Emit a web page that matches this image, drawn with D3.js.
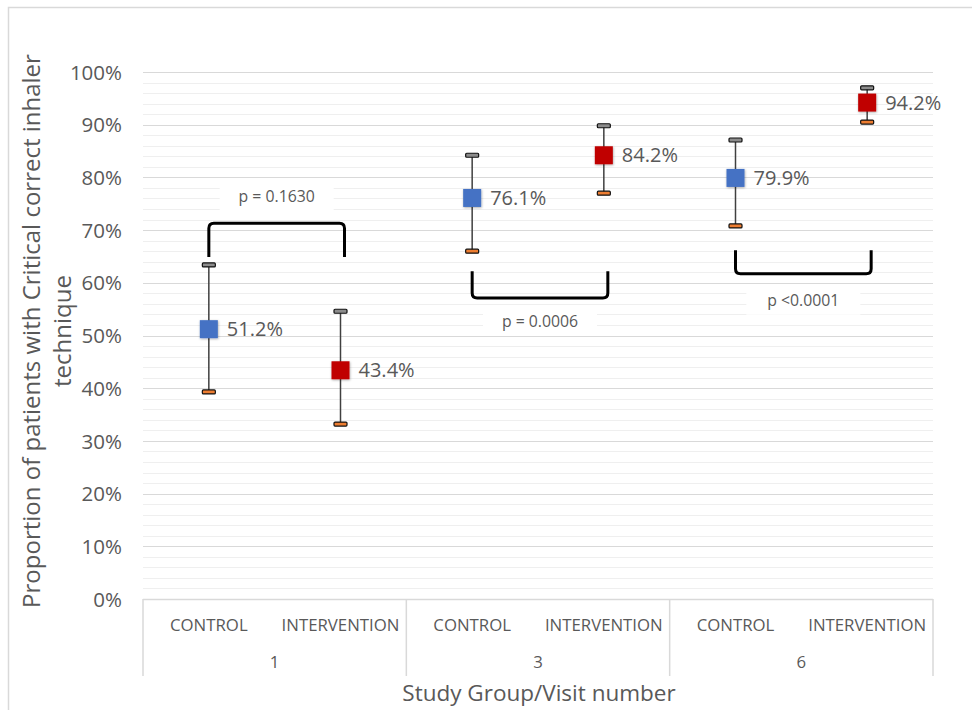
<!DOCTYPE html>
<html>
<head>
<meta charset="utf-8">
<script src="https://cdn.jsdelivr.net/npm/d3@7"></script>
<style>
  html, body { margin: 0; padding: 0; background: #fff; }
  svg { display: block; }
  text { font-family: "Open Sans", "Noto Sans", sans-serif; fill: #595959; }
</style>
</head>
<body>
<svg id="chart" width="972" height="710"></svg>
<script>
// Categories along the x axis (study group within each visit)
const groups = ["CONTROL", "INTERVENTION", "CONTROL", "INTERVENTION", "CONTROL", "INTERVENTION"];
const visits = ["1", "3", "6"];
const visitOfPoint = ["1", "1", "3", "3", "6", "6"];

// Proportion with critical correct inhaler technique and its confidence bounds
const values = [0.512, 0.434, 0.761, 0.842, 0.799, 0.942];
const upper  = [0.634, 0.546, 0.842, 0.898, 0.871, 0.970];
const lower  = [0.393, 0.332, 0.660, 0.770, 0.708, 0.905];

// Y axis ticks
const yTicks = [0, 0.1, 0.2, 0.3, 0.4, 0.5, 0.6, 0.7, 0.8, 0.9, 1.0];
const yMinorTicks = d3.range(0, 1.0001, 0.02);

// Comparison brackets between groups at each visit
const pLabels  = ["p = 0.1630", "p = 0.0006", "p <0.0001"];
const pVisit   = ["1", "3", "6"];
const pOpen    = ["down", "up", "up"];
const pBase    = [0.713, 0.571, 0.617];
const pLegEnd  = [0.649, 0.622, 0.662];
const pLabelY  = [0.763, 0.527, 0.566];

const svg = d3.select("#chart");
const plot = { left: 143, right: 933, top: 72, bottom: 599 };

// outer chart frame
svg.append("rect").attr("x", 8.5).attr("y", 7.5).attr("width", 972).attr("height", 720)
  .attr("fill", "none").attr("stroke", "#d9d9d9").attr("stroke-width", 1.5);

const idx = d3.range(groups.length);
const x = d3.scaleBand().domain(idx).range([plot.left, plot.right]);
const cx = i => x(i) + x.bandwidth() / 2;
const y = d3.scaleLinear().domain([0, 1]).range([plot.bottom, plot.top]);

// minor gridlines
svg.append("g").selectAll("line").data(yMinorTicks).join("line")
  .attr("x1", plot.left).attr("x2", plot.right)
  .attr("y1", d => Math.round(y(d)) + 0.5).attr("y2", d => Math.round(y(d)) + 0.5)
  .attr("stroke", "#efefef").attr("stroke-width", 1);

// major gridlines
svg.append("g").selectAll("line").data(yTicks.slice(1)).join("line")
  .attr("x1", plot.left).attr("x2", plot.right)
  .attr("y1", d => Math.round(y(d)) + 0.5).attr("y2", d => Math.round(y(d)) + 0.5)
  .attr("stroke", "#d9d9d9").attr("stroke-width", 1.2);

// y axis labels
const yAxis = d3.axisLeft(y).tickValues(yTicks).tickFormat(d3.format(".0%")).tickSize(0).tickPadding(21);
const yg = svg.append("g").attr("transform", `translate(${plot.left},0)`).call(yAxis);
yg.select(".domain").remove();
yg.selectAll("text").style("font-size", "20.5px").attr("fill", "#595959")
  .style("font-family", "'Open Sans', sans-serif").attr("dy", "0.35em");

// category axis frame
const axisBottom = 676;
svg.append("line").attr("x1", plot.left).attr("x2", plot.right)
  .attr("y1", plot.bottom + 0.5).attr("y2", plot.bottom + 0.5)
  .attr("stroke", "#d9d9d9").attr("stroke-width", 1.5);
const visitEdges = [plot.left].concat(visits.map(v => x(idx.filter(i => visitOfPoint[i] === v).slice(-1)[0]) + x.bandwidth()));
svg.append("g").selectAll("line").data(visitEdges).join("line")
  .attr("x1", d => d).attr("x2", d => d).attr("y1", plot.bottom).attr("y2", axisBottom)
  .attr("stroke", "#d9d9d9").attr("stroke-width", 1.5);

svg.append("g").selectAll("text").data(idx).join("text")
  .attr("x", i => cx(i)).attr("y", 631).attr("text-anchor", "middle")
  .style("font-size", "16.8px").text(i => groups[i]);

svg.append("g").selectAll("text").data(visits).join("text")
  .attr("x", v => d3.mean(idx.filter(i => visitOfPoint[i] === v), cx))
  .attr("y", 668).attr("text-anchor", "middle").style("font-size", "16.8px").text(v => v);

// axis titles
svg.append("text").attr("x", 539).attr("y", 701).attr("text-anchor", "middle")
  .style("font-size", "22.5px").text("Study Group/Visit number");
const yt = svg.append("text").attr("transform", "translate(40,331) rotate(-90)")
  .attr("text-anchor", "middle").style("font-size", "24px");
yt.append("tspan").attr("x", 0).attr("dy", 0).text("Proportion of patients with Critical correct inhaler");
yt.append("tspan").attr("x", 0).attr("dy", 31).text("technique");

// error bars
const eb = svg.append("g");
eb.selectAll("line").data(idx).join("line")
  .attr("x1", cx).attr("x2", cx).attr("y1", i => y(upper[i])).attr("y2", i => y(lower[i]))
  .attr("stroke", "#404040").attr("stroke-width", 1.5);
const capW = 13, capH = 4;
eb.selectAll("rect.top").data(idx).join("rect").attr("class", "top")
  .attr("x", i => cx(i) - capW / 2).attr("y", i => y(upper[i]) - capH / 2)
  .attr("width", capW).attr("height", capH).attr("rx", 1)
  .attr("fill", "#8c8c8c").attr("stroke", "#111").attr("stroke-width", 1.2);
eb.selectAll("rect.bot").data(idx).join("rect").attr("class", "bot")
  .attr("x", i => cx(i) - capW / 2).attr("y", i => y(lower[i]) - capH / 2)
  .attr("width", capW).attr("height", capH).attr("rx", 1)
  .attr("fill", "#ed7d31").attr("stroke", "#111").attr("stroke-width", 1.2);

// markers
const defs = svg.append("defs");
const f = defs.append("filter").attr("id", "shadow").attr("x", "-30%").attr("y", "-30%").attr("width", "160%").attr("height", "160%");
f.append("feDropShadow").attr("dx", 0.5).attr("dy", 0.8).attr("stdDeviation", 0.8).attr("flood-color", "#000").attr("flood-opacity", 0.35);
const markerColor = g => g === "CONTROL" ? "#4472c4" : "#c00000";
const ms = 18;
svg.append("g").selectAll("rect").data(idx).join("rect")
  .attr("x", i => cx(i) - ms / 2).attr("y", i => y(values[i]) - ms / 2)
  .attr("width", ms).attr("height", ms)
  .attr("fill", i => markerColor(groups[i])).attr("filter", "url(#shadow)");

// value labels
svg.append("g").selectAll("text").data(idx).join("text")
  .attr("x", i => cx(i) + 18).attr("y", i => y(values[i])).attr("dy", "0.36em")
  .style("font-size", "20px").attr("fill", "#404040")
  .text(i => d3.format(".1%")(values[i]));

// comparison brackets with p-values
const br = svg.append("g");
pLabels.forEach((lab, k) => {
  const pts = idx.filter(i => visitOfPoint[i] === pVisit[k]);
  const x0 = cx(pts[0]), x1 = cx(pts[1]) + 4;
  const yb = y(pBase[k]), yl = y(pLegEnd[k]);
  const r = 5 * (pOpen[k] === "down" ? 1 : -1);
  const path = d3.path();
  path.moveTo(x0, yl);
  path.lineTo(x0, yb + r);
  path.quadraticCurveTo(x0, yb, x0 + 5, yb);
  path.lineTo(x1 - 5, yb);
  path.quadraticCurveTo(x1, yb, x1, yb + r);
  path.lineTo(x1, yl);
  br.append("path").attr("d", path.toString()).attr("fill", "none")
    .attr("stroke", "#000").attr("stroke-width", 3);
  const mx = (x0 + x1) / 2;
  br.append("rect").attr("x", mx - 57).attr("y", y(pLabelY[k]) - 14)
    .attr("width", 114).attr("height", 28).attr("fill", "#fff");
  br.append("text").attr("x", mx).attr("y", y(pLabelY[k])).attr("dy", "0.35em")
    .attr("text-anchor", "middle").style("font-size", "15.8px").attr("fill", "#000").text(lab);
});
</script>
</body>
</html>
